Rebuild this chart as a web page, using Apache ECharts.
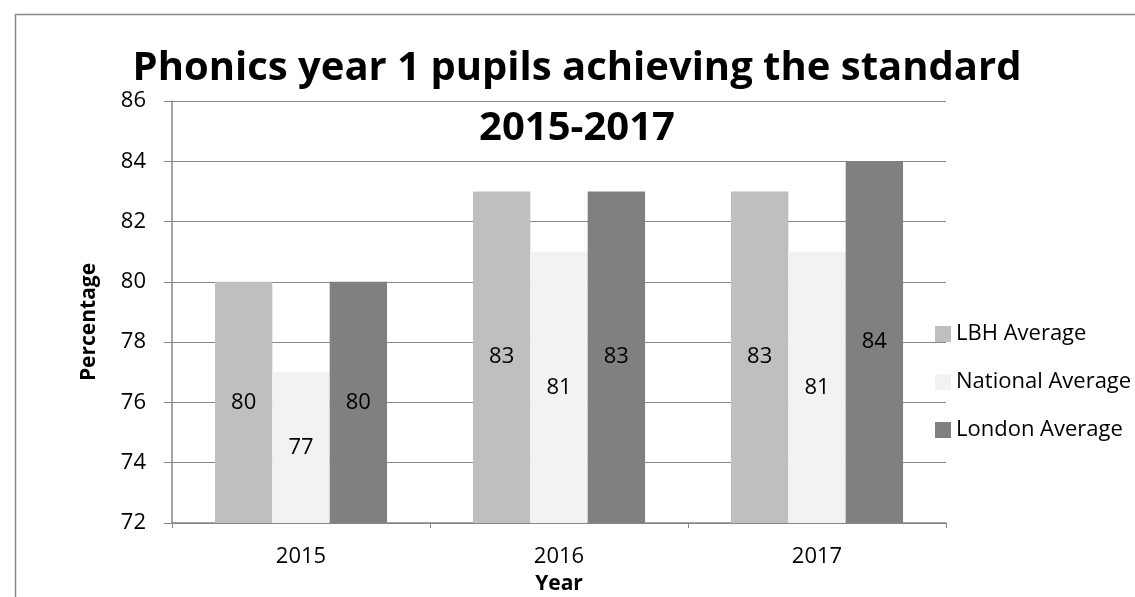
<!DOCTYPE html>
<html>
<head>
<meta charset="utf-8">
<script src="https://cdn.jsdelivr.net/npm/echarts@6/dist/echarts.min.js"></script>
<style>
  html, body { margin: 0; padding: 0; background: #fff; overflow: hidden; }
  #chart { width: 1135px; height: 597px; }
</style>
</head>
<body>
<div id="chart"></div>
<script>
// Phonics screening: share of year 1 pupils reaching the expected standard
const years = ['2015', '2016', '2017'];
const lbhAverage = [80, 83, 83];
const nationalAverage = [77, 81, 81];
const londonAverage = [80, 83, 84];
const seriesNames = ['LBH Average', 'National Average', 'London Average'];
const yTicks = { min: 72, max: 86, step: 2 };

const FONT = '"Open Sans", "Noto Sans", sans-serif';
const GRID_COLOR = '#868686';

const chart = echarts.init(document.getElementById('chart'), null, { renderer: 'canvas' });

function barSeries(name, data, color) {
  return {
    name: name,
    type: 'bar',
    data: data,
    barGap: '0%',
    barCategoryGap: '33.3%',
    itemStyle: { color: color },
    label: {
      show: true,
      position: 'inside',
      color: '#000',
      fontFamily: FONT,
      fontSize: 22
    }
  };
}

chart.setOption({
  backgroundColor: '#fff',
  animation: false,
  title: {
    text: 'Phonics year 1 pupils achieving the standard\n2015-2017',
    // anchor point of the centred title lines
    left: 572,
    textAlign: 'center',
    top: 34,
    textStyle: {
      fontFamily: FONT,
      fontWeight: 'bold',
      fontSize: 40,
      lineHeight: 60,
      color: '#000'
    }
  },
  legend: {
    orient: 'vertical',
    left: 930,
    top: 318,
    itemWidth: 16,
    itemHeight: 16,
    itemGap: 26,
    icon: 'rect',
    data: seriesNames,
    textStyle: {
      fontFamily: FONT,
      fontSize: 22,
      lineHeight: 22,
      color: '#000'
    }
  },
  // plot area: 172..946 horizontally, 101..523 vertically; axis texts may sit outside it
  grid: {
    left: 172, top: 101, width: 774, height: 422,
    containLabel: false,
    outerBoundsMode: 'none'
  },
  xAxis: {
    type: 'category',
    data: years,
    name: 'Year',
    nameLocation: 'middle',
    nameGap: 51,
    nameTextStyle: { fontFamily: FONT, fontWeight: 'bold', fontSize: 21, color: '#000' },
    axisLine: { show: true, lineStyle: { color: GRID_COLOR, width: 1.5 } },
    axisTick: { show: true, alignWithLabel: false, length: 5, lineStyle: { color: GRID_COLOR } },
    axisLabel: { fontFamily: FONT, fontSize: 22, color: '#000', margin: 23 }
  },
  yAxis: {
    type: 'value',
    min: yTicks.min,
    max: yTicks.max,
    interval: yTicks.step,
    name: 'Percentage',
    nameLocation: 'middle',
    nameGap: 72,
    nameRotate: 90,
    nameTextStyle: {
      fontFamily: FONT, fontWeight: 'bold', fontSize: 21, color: '#000',
      padding: [0, 20, 0, 0]
    },
    axisLine: { show: true, lineStyle: { color: GRID_COLOR, width: 1.5 } },
    axisTick: { show: true, inside: false, length: 8, lineStyle: { color: GRID_COLOR } },
    axisLabel: { fontFamily: FONT, fontSize: 22, color: '#000', margin: 26 },
    splitLine: { show: true, lineStyle: { color: GRID_COLOR, width: 1 } }
  },
  graphic: [{
    type: 'rect',
    shape: { x: 15.5, y: 14.5, width: 1300, height: 700 },
    style: { fill: null, stroke: '#8a8a8a', lineWidth: 1.5 },
    silent: true,
    z: -1
  }],
  series: [
    barSeries(seriesNames[0], lbhAverage, '#bfbfbf'),
    barSeries(seriesNames[1], nationalAverage, '#f2f2f2'),
    barSeries(seriesNames[2], londonAverage, '#808080')
  ]
});
</script>
</body>
</html>
